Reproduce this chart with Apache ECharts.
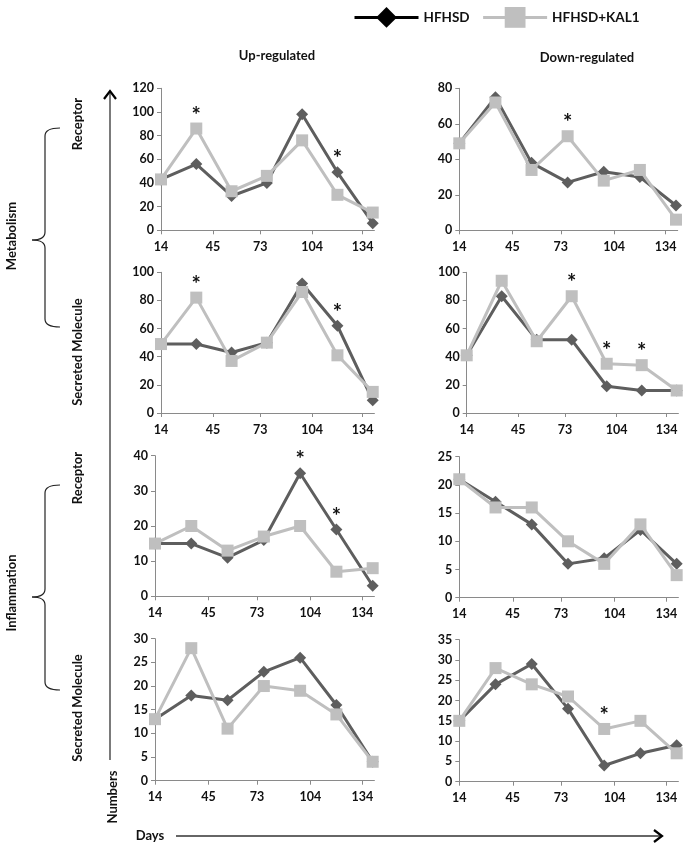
<!DOCTYPE html>
<html>
<head>
<meta charset="utf-8">
<script src="https://cdn.jsdelivr.net/npm/echarts@6/dist/echarts.min.js"></script>
<style>
html,body{margin:0;padding:0;background:#fff;}
#chart{width:685px;height:846px;}
</style>
</head>
<body>
<div id="chart"></div>
<script>
// ---- data ----
const days = [14, 35, 56, 77, 98, 119, 140];
const xTickLabels = [14, 45, 73, 104, 134];
const seriesNames = ['HFHSD', 'HFHSD+KAL1'];

const metRecUpHFHSD   = [43, 56, 29, 40, 98, 49, 6];
const metRecUpKAL1    = [43, 86, 33, 46, 76, 30, 15];
const metRecDownHFHSD = [49, 75, 38, 27, 33, 30, 14];
const metRecDownKAL1  = [49, 72, 34, 53, 28, 34, 6];
const metSecUpHFHSD   = [49, 49, 43, 50, 92, 62, 9];
const metSecUpKAL1    = [49, 82, 37, 50, 86, 41, 15];
const metSecDownHFHSD = [41, 83, 52, 52, 19, 16, 16];
const metSecDownKAL1  = [41, 94, 51, 83, 35, 34, 16];
const infRecUpHFHSD   = [15, 15, 11, 16, 35, 19, 3];
const infRecUpKAL1    = [15, 20, 13, 17, 20, 7, 8];
const infRecDownHFHSD = [21, 17, 13, 6, 7, 12, 6];
const infRecDownKAL1  = [21, 16, 16, 10, 6, 13, 4];
const infSecUpHFHSD   = [13, 18, 17, 23, 26, 16, 4];
const infSecUpKAL1    = [13, 28, 11, 20, 19, 14, 4];
const infSecDownHFHSD = [15, 24, 29, 18, 4, 7, 9];
const infSecDownKAL1  = [15, 28, 24, 21, 13, 15, 7];

// days with significant difference (*)
const metRecUpSig   = [35, 119];
const metRecDownSig = [77];
const metSecUpSig   = [35, 119];
const metSecDownSig = [77, 98, 119];
const infRecUpSig   = [98, 119];
const infRecDownSig = [];
const infSecUpSig   = [];
const infSecDownSig = [98];

const yMaxes    = [120, 80, 100, 100, 40, 25, 30, 35];
const yIntervals = [20, 20, 20, 20, 10, 5, 5, 5];

// ---- layout (positions / styles) ----
const panels = [
  {a: metRecUpHFHSD,   b: metRecUpKAL1,   sig: metRecUpSig,   grid: {left:161,   top:88.3,  width:213.4, height:142}},
  {a: metRecDownHFHSD, b: metRecDownKAL1, sig: metRecDownSig, grid: {left:459.3, top:88.3,  width:218.4, height:142}},
  {a: metSecUpHFHSD,   b: metSecUpKAL1,   sig: metSecUpSig,   grid: {left:161,   top:272.3, width:213.4, height:140.7}},
  {a: metSecDownHFHSD, b: metSecDownKAL1, sig: metSecDownSig, grid: {left:466.7, top:272.3, width:211.7, height:140.7}},
  {a: infRecUpHFHSD,   b: infRecUpKAL1,   sig: infRecUpSig,   grid: {left:155,   top:455.7, width:219.4, height:140.6}},
  {a: infRecDownHFHSD, b: infRecDownKAL1, sig: infRecDownSig, grid: {left:459.3, top:456.7, width:219.1, height:141}},
  {a: infSecUpHFHSD,   b: infSecUpKAL1,   sig: infSecUpSig,   grid: {left:155,   top:638.7, width:219.4, height:142}},
  {a: infSecDownHFHSD, b: infSecDownKAL1, sig: infSecDownSig, grid: {left:459.3, top:639.7, width:219.1, height:142}}
];

const FONT = 'Lato, "Open Sans", sans-serif';
const DARK = '#5e5e5e';
const LIGHT = '#bfbfbf';
const AXIS = '#8a8a8a';

const grids = [], xAxes = [], yAxes = [], series = [];
panels.forEach((p, i) => {
  grids.push(Object.assign({}, p.grid));
  xAxes.push({
    type: 'value', gridIndex: i, min: 14, max: 141,
    splitLine: {show: false},
    axisLine: {show: true, lineStyle: {color: AXIS, width: 1}},
    axisTick: {show: true, customValues: xTickLabels, length: 4, lineStyle: {color: AXIS}},
    axisLabel: {customValues: xTickLabels, color: '#111', fontFamily: FONT, fontWeight: 'bold', fontSize: 12.5, margin: 10}
  });
  yAxes.push({
    type: 'value', gridIndex: i, min: 0, max: yMaxes[i], interval: yIntervals[i],
    splitLine: {show: false},
    axisLine: {show: true, lineStyle: {color: AXIS, width: 1}},
    axisTick: {show: true, length: 4, lineStyle: {color: AXIS}},
    axisLabel: {color: '#111', fontFamily: FONT, fontWeight: 'bold', fontSize: 12.5, margin: 7}
  });
  const star = {show: true, formatter: '*', position: 'top', distance: 0, offset: [0, 4],
    color: '#111', fontFamily: FONT, fontSize: 22, fontWeight: 'bold'};
  const mk = (vals, other) => days.map((d, k) => {
    const item = {value: [d, vals[k]]};
    if (p.sig.indexOf(d) >= 0 && vals[k] >= other[k]) item.label = star;
    return item;
  });
  series.push({
    name: seriesNames[0], type: 'line', xAxisIndex: i, yAxisIndex: i,
    data: mk(p.a, p.b), symbol: 'diamond', symbolSize: 12,
    lineStyle: {color: DARK, width: 3}, itemStyle: {color: DARK},
    z: 2
  });
  series.push({
    name: seriesNames[1], type: 'line', xAxisIndex: i, yAxisIndex: i,
    data: mk(p.b, p.a), symbol: 'rect', symbolSize: 12,
    lineStyle: {color: LIGHT, width: 3}, itemStyle: {color: LIGHT},
    z: 3
  });
});

const txt = (text, x, y, opts) => Object.assign({
  type: 'text', x: x, y: y,
  style: {text: text, font: 'bold 13px ' + FONT, fill: '#111', textAlign: 'center', textVerticalAlign: 'middle'}
}, opts || {});
const vtxt = (text, x, y) => txt(text, x, y, {rotation: Math.PI / 2});

const BST = {stroke: '#222', lineWidth: 1.2, fill: null};
const bracket = (top, cusp, bottom) => ([
  {type: 'bezierCurve', shape: {x1: 60, y1: top, cpx1: 45, cpy1: top, x2: 45, y2: top + 8}, style: BST},
  {type: 'line', shape: {x1: 45, y1: top + 8, x2: 45, y2: cusp - 8}, style: BST},
  {type: 'bezierCurve', shape: {x1: 45, y1: cusp - 8, cpx1: 45, cpy1: cusp, x2: 32, y2: cusp}, style: BST},
  {type: 'bezierCurve', shape: {x1: 32, y1: cusp, cpx1: 45, cpy1: cusp, x2: 45, y2: cusp + 8}, style: BST},
  {type: 'line', shape: {x1: 45, y1: cusp + 8, x2: 45, y2: bottom - 8}, style: BST},
  {type: 'bezierCurve', shape: {x1: 45, y1: bottom - 8, cpx1: 45, cpy1: bottom, x2: 60, y2: bottom}, style: BST}
]);

const option = {
  animation: false,
  backgroundColor: '#fff',
  legend: {
    left: 348, top: 2,
    itemWidth: 64, itemHeight: 26, itemGap: 12,
    textStyle: {fontFamily: FONT, fontWeight: 'bold', fontSize: 13.5, color: '#111'},
    data: [
      {name: seriesNames[0], itemStyle: {color: '#000'}, lineStyle: {color: '#000', width: 3}},
      {name: seriesNames[1], itemStyle: {color: LIGHT}, lineStyle: {color: LIGHT, width: 3}}
    ]
  },
  grid: grids, xAxis: xAxes, yAxis: yAxes, series: series,
  graphic: [
    txt('Up-regulated', 277, 56),
    txt('Down-regulated', 587, 58),
    vtxt('Metabolism', 12, 236),
    vtxt('Inflammation', 12, 593),
    vtxt('Receptor', 78, 124),
    vtxt('Secreted Molecule', 78, 352),
    vtxt('Receptor', 78, 478),
    vtxt('Secreted Molecule', 78, 708),
    vtxt('Numbers', 113, 797),
    txt('Days', 150, 836),
    ...bracket(128, 240, 327),
    ...bracket(485, 597, 690),
    {type: 'line', shape: {x1: 110, y1: 760, x2: 110, y2: 91}, style: {stroke: '#333', lineWidth: 1.3}},
    {type: 'polyline', shape: {points: [[104, 99], [110, 91], [116, 99]]}, style: {stroke: '#000', lineWidth: 2.2, fill: null}},
    {type: 'line', shape: {x1: 176, y1: 836, x2: 662, y2: 836}, style: {stroke: '#333', lineWidth: 1.3}},
    {type: 'polyline', shape: {points: [[654, 830], [662, 836], [654, 842]]}, style: {stroke: '#000', lineWidth: 2.2, fill: null}}
  ]
};

const chart = echarts.init(document.getElementById('chart'), null, {renderer: 'canvas'});
chart.setOption(option);
</script>
</body>
</html>
